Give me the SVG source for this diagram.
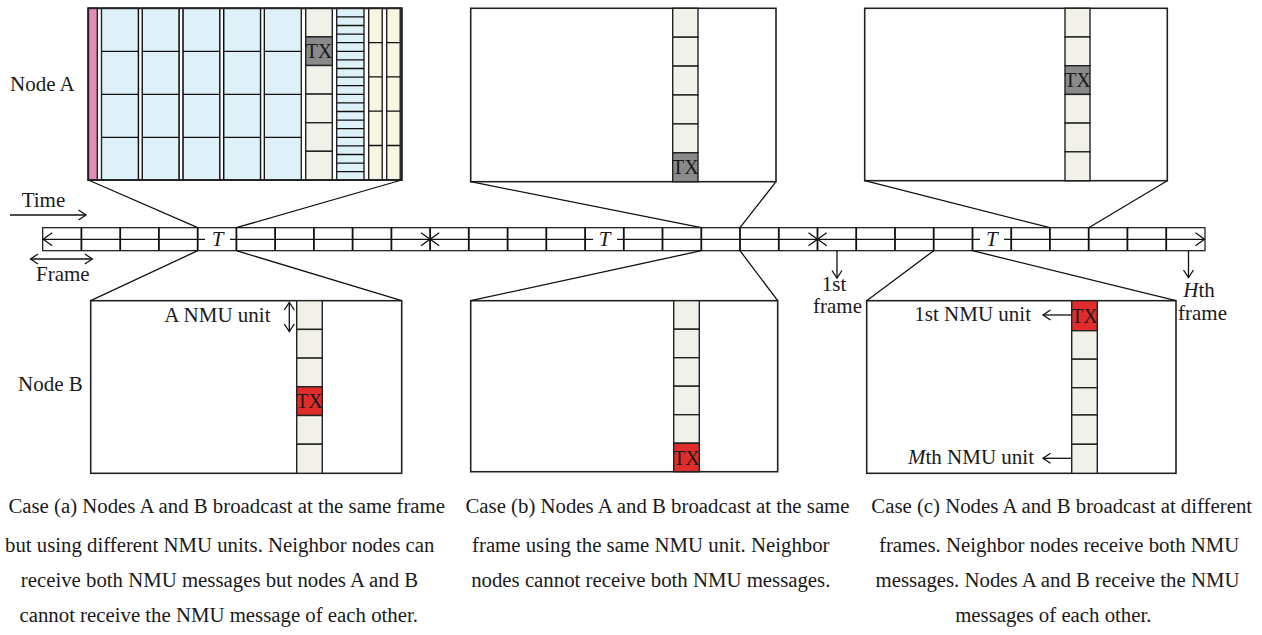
<svg xmlns="http://www.w3.org/2000/svg" width="1262" height="635" viewBox="0 0 1262 635">
<style>
.box{fill:#fff;stroke:#222;stroke-width:1.6}
.cell{fill:#f1f1e9;stroke:#222;stroke-width:1.4}
.gray{fill:#8a8a8a;stroke:#222;stroke-width:1.4}
.red{fill:#e12c2c;stroke:#222;stroke-width:1.4}
.blue{fill:#dff1f8;stroke:#222;stroke-width:1.4}
.yel{fill:#f6f6e2;stroke:#222;stroke-width:1.4}
.pink{fill:#e58bb7;stroke:#222;stroke-width:1.4}
.ln{stroke:#111;stroke-width:1.3;fill:none}
.vl{stroke:#111;stroke-width:1.8;fill:none}
.t{font-family:"Liberation Serif",serif;font-size:21px;fill:#1a1a1a}
.tx{font-family:"Liberation Serif",serif;font-size:20px;fill:#1a1a1a;text-anchor:middle}
.cap{font-family:"Liberation Serif",serif;font-size:20.8px;fill:#1a1a1a;text-anchor:middle}
.it{font-style:italic}
</style>
<defs>
<marker id="ah" viewBox="-10 -8 12 16" refX="0" refY="0" markerWidth="12" markerHeight="16" markerUnits="userSpaceOnUse" orient="auto-start-reverse" overflow="visible"><path d="M-9,-6.5 L0,0 L-9,6.5" fill="none" stroke="#111" stroke-width="1.3"/></marker>
<marker id="ahs" viewBox="-10 -8 12 16" refX="0" refY="0" markerWidth="12" markerHeight="16" markerUnits="userSpaceOnUse" orient="auto-start-reverse" overflow="visible"><path d="M-7.5,-5 L0,0 L-7.5,5" fill="none" stroke="#111" stroke-width="1.3"/></marker>
</defs>

<!-- Node A top-left box -->
<g id="nodeA-frameA">
<rect class="box" x="88.3" y="8.3" width="313.4" height="171.7"/>
<rect class="pink" x="88.3" y="8.3" width="9" height="171.7"/>
<g>
<rect class="blue" x="101.5" y="8.3" width="37" height="171.7"/>
<rect class="blue" x="142.2" y="8.3" width="37" height="171.7"/>
<rect class="blue" x="182.9" y="8.3" width="37" height="171.7"/>
<rect class="blue" x="223.6" y="8.3" width="37" height="171.7"/>
<rect class="blue" x="264.3" y="8.3" width="37" height="171.7"/>
<path class="ln" d="M101.5,51.3H301.3M101.5,94.3H301.3M101.5,137.3H301.3" stroke-width="1.6"/>
<path fill="#fff" d="M138.5,9H142.2V179H138.5ZM179.2,9H182.9V179H179.2ZM219.9,9H223.6V179H219.9ZM260.6,9H264.3V179H260.6Z"/>
<path class="ln" d="M138.5,8.3V180M142.2,8.3V180M179.2,8.3V180M182.9,8.3V180M219.9,8.3V180M223.6,8.3V180M260.6,8.3V180M264.3,8.3V180" stroke-width="1.4"/>
</g>
<rect class="cell" x="305.7" y="8.3" width="26.6" height="28.6"/>
<rect class="gray" x="305.7" y="36.9" width="26.6" height="28.6"/>
<rect class="cell" x="305.7" y="65.5" width="26.6" height="28.6"/>
<rect class="cell" x="305.7" y="94.1" width="26.6" height="28.6"/>
<rect class="cell" x="305.7" y="122.7" width="26.6" height="28.6"/>
<rect class="cell" x="305.7" y="151.3" width="26.6" height="28.7"/>
<text class="tx" x="319" y="58">TX</text>
<rect class="blue" x="336.7" y="8.3" width="27.3" height="171.7"/>
<path class="ln" d="M336.7,16.9H364M336.7,25.5H364M336.7,34.1H364M336.7,42.7H364M336.7,51.3H364M336.7,59.9H364M336.7,68.5H364M336.7,77.1H364M336.7,85.7H364M336.7,94.3H364M336.7,102.9H364M336.7,111.5H364M336.7,120.1H364M336.7,128.7H364M336.7,137.3H364M336.7,145.9H364M336.7,154.5H364M336.7,163.1H364M336.7,171.7H364"/>
<rect class="yel" x="368.7" y="8.3" width="13.5" height="171.7"/>
<rect class="yel" x="386.7" y="8.3" width="13.5" height="171.7"/>
<path class="ln" d="M368.7,42.6H382.2M368.7,76.9H382.2M368.7,111.2H382.2M368.7,145.5H382.2M386.7,42.6H400.2M386.7,76.9H400.2M386.7,111.2H400.2M386.7,145.5H400.2" stroke-width="1.5"/>
<rect x="88.3" y="8.3" width="313.4" height="171.7" fill="none" stroke="#222" stroke-width="1.8"/>
</g>

<!-- Node A middle box -->
<g id="nodeA-frameB">
<rect class="box" x="470.7" y="8.3" width="305.3" height="173.4"/>
<rect class="cell" x="672.7" y="8.3" width="25.3" height="28.9"/>
<rect class="cell" x="672.7" y="37.2" width="25.3" height="28.9"/>
<rect class="cell" x="672.7" y="66.1" width="25.3" height="28.9"/>
<rect class="cell" x="672.7" y="95" width="25.3" height="28.9"/>
<rect class="cell" x="672.7" y="123.9" width="25.3" height="28.9"/>
<rect class="gray" x="672.7" y="152.8" width="25.3" height="28.9"/>
<text class="tx" x="685.4" y="174">TX</text>
</g>

<!-- Node A right box -->
<g id="nodeA-frameC">
<rect class="box" x="864.7" y="8.3" width="302.6" height="172.4"/>
<rect class="cell" x="1065" y="8.3" width="25" height="28.7"/>
<rect class="cell" x="1065" y="37" width="25" height="28.7"/>
<rect class="gray" x="1065" y="65.7" width="25" height="28.7"/>
<rect class="cell" x="1065" y="94.4" width="25" height="28.7"/>
<rect class="cell" x="1065" y="123.1" width="25" height="28.7"/>
<rect class="cell" x="1065" y="151.8" width="25" height="28.9"/>
<text class="tx" x="1077.5" y="87">TX</text>
</g>

<!-- Node B left box -->
<g id="nodeB-frameA">
<rect class="box" x="90.7" y="300.7" width="311" height="172.6"/>
<rect class="cell" x="296.7" y="300.7" width="25.6" height="28.7"/>
<rect class="cell" x="296.7" y="329.4" width="25.6" height="28.7"/>
<rect class="cell" x="296.7" y="358.1" width="25.6" height="28.7"/>
<rect class="red" x="296.7" y="386.8" width="25.6" height="28.7"/>
<rect class="cell" x="296.7" y="415.5" width="25.6" height="28.7"/>
<rect class="cell" x="296.7" y="444.2" width="25.6" height="29.1"/>
<text class="tx" x="309.5" y="408">TX</text>
<text class="t" x="270.5" y="321.5" text-anchor="end">A NMU unit</text>
<path class="ln" d="M289.3,302.5V331.5" marker-start="url(#ahs)" marker-end="url(#ahs)"/>
</g>

<!-- Node B middle box -->
<g id="nodeB-frameB">
<rect class="box" x="470.7" y="300.7" width="307" height="171"/>
<rect class="cell" x="673.7" y="300.7" width="25.6" height="28.5"/>
<rect class="cell" x="673.7" y="329.2" width="25.6" height="28.5"/>
<rect class="cell" x="673.7" y="357.7" width="25.6" height="28.5"/>
<rect class="cell" x="673.7" y="386.2" width="25.6" height="28.5"/>
<rect class="cell" x="673.7" y="414.7" width="25.6" height="28.5"/>
<rect class="red" x="673.7" y="443.2" width="25.6" height="28.5"/>
<text class="tx" x="686.5" y="464.5">TX</text>
</g>

<!-- Node B right box -->
<g id="nodeB-frameC">
<rect class="box" x="866.7" y="300.7" width="309.3" height="172.6"/>
<rect class="red" x="1071.7" y="300.7" width="25.6" height="30"/>
<rect class="cell" x="1071.7" y="330.7" width="25.6" height="28.5"/>
<rect class="cell" x="1071.7" y="359.2" width="25.6" height="28.5"/>
<rect class="cell" x="1071.7" y="387.7" width="25.6" height="27.3"/>
<rect class="cell" x="1071.7" y="415" width="25.6" height="29.3"/>
<rect class="cell" x="1071.7" y="444.3" width="25.6" height="29"/>
<text class="tx" x="1084.5" y="323">TX</text>
<text class="t" x="1031" y="320.7" text-anchor="end">1st NMU unit</text>
<text class="t" x="1034" y="464" text-anchor="end"><tspan class="it">M</tspan>th NMU unit</text>
<path class="ln" d="M1071.7,315H1043" marker-end="url(#ahs)"/>
<path class="ln" d="M1071.7,458.3H1043" marker-end="url(#ahs)"/>
</g>

<!-- Timeline -->
<g id="timeline">
<rect x="42.7" y="227.7" width="1162.3" height="23" fill="#fff" stroke="#111" stroke-width="1.2"/>
<path class="vl" d="M81.4,227.7V250.7M120.2,227.7V250.7M158.9,227.7V250.7M197.7,227.7V250.7M236.4,227.7V250.7M275.1,227.7V250.7M313.9,227.7V250.7M352.6,227.7V250.7M391.4,227.7V250.7M430.1,227.7V250.7M468.8,227.7V250.7M507.6,227.7V250.7M546.3,227.7V250.7M585.1,227.7V250.7M623.8,227.7V250.7M662.5,227.7V250.7M701.3,227.7V250.7M740,227.7V250.7M778.8,227.7V250.7M817.5,227.7V250.7M856.2,227.7V250.7M895,227.7V250.7M933.7,227.7V250.7M972.5,227.7V250.7M1011.2,227.7V250.7M1049.9,227.7V250.7M1088.7,227.7V250.7M1127.4,227.7V250.7M1166.2,227.7V250.7"/>
<path class="ln" d="M43.2,239.3H205" marker-start="url(#ah)"/>
<path class="ln" d="M230,239.3H430" marker-end="url(#ah)"/>
<path class="ln" d="M430.2,239.3H593" marker-start="url(#ah)"/>
<path class="ln" d="M617,239.3H817.5" marker-end="url(#ah)"/>
<path class="ln" d="M817.7,239.3H980" marker-start="url(#ah)"/>
<path class="ln" d="M1004,239.3H1204.5" marker-end="url(#ah)"/>
<text class="t it" x="217.5" y="245.5" text-anchor="middle" font-size="19">T</text>
<text class="t it" x="604.6" y="245.5" text-anchor="middle" font-size="19">T</text>
<text class="t it" x="991.9" y="245.5" text-anchor="middle" font-size="19">T</text>
</g>

<!-- Connectors -->
<g id="connectors" class="ln">
<path d="M88.3,180L197.7,227.7M401.7,180L236.4,227.7"/>
<path d="M197.7,250.7L90.7,300.7M236.4,250.7L401.7,300.7"/>
<path d="M470.7,181.7L701.3,227.7M776,181.7L740,227.7"/>
<path d="M701.3,250.7L470.7,300.7M740,250.7L777.7,300.7"/>
<path d="M864.7,180.7L1049.9,227.7M1167.3,180.7L1088.7,227.7"/>
<path d="M933.7,250.7L866.7,300.7M972.5,250.7L1176,300.7"/>
</g>

<!-- Labels -->
<g id="labels">
<text class="t" x="10" y="91">Node A</text>
<text class="t" x="18" y="391">Node B</text>
<text class="t" x="21.7" y="206.7">Time</text>
<path class="ln" d="M10,215H86" marker-end="url(#ahs)"/>
<path class="ln" d="M30.5,259H92.3" marker-start="url(#ahs)" marker-end="url(#ahs)"/>
<text class="t" x="36" y="281">Frame</text>
<path class="ln" d="M837,250.7V278" marker-end="url(#ahs)"/>
<text class="t" x="834" y="291" text-anchor="middle">1st</text>
<text class="t" x="837.5" y="313.3" text-anchor="middle">frame</text>
<path class="ln" d="M1188.5,250.7V277.5" marker-end="url(#ahs)"/>
<text class="t" x="1199" y="296.7" text-anchor="middle"><tspan class="it">H</tspan>th</text>
<text class="t" x="1202.5" y="320" text-anchor="middle">frame</text>
</g>

<!-- Captions -->
<g id="captions">
<text class="cap" x="226.7" y="513">Case (a) Nodes A and B broadcast at the same frame</text>
<text class="cap" x="219.7" y="551.5">but using different NMU units. Neighbor nodes can</text>
<text class="cap" x="219.5" y="587">receive both NMU messages but nodes A and B</text>
<text class="cap" x="218.7" y="622">cannot receive the NMU message of each other.</text>
<text class="cap" x="657.5" y="513">Case (b) Nodes A and B broadcast at the same</text>
<text class="cap" x="650.8" y="551.5">frame using the same NMU unit. Neighbor</text>
<text class="cap" x="650.8" y="587">nodes cannot receive both NMU messages.</text>
<text class="cap" x="1061.7" y="513">Case (c) Nodes A and B broadcast at different</text>
<text class="cap" x="1059.2" y="551.5">frames. Neighbor nodes receive both NMU</text>
<text class="cap" x="1057.5" y="587">messages. Nodes A and B receive the NMU</text>
<text class="cap" x="1053.3" y="622">messages of each other.</text>
</g>
</svg>
